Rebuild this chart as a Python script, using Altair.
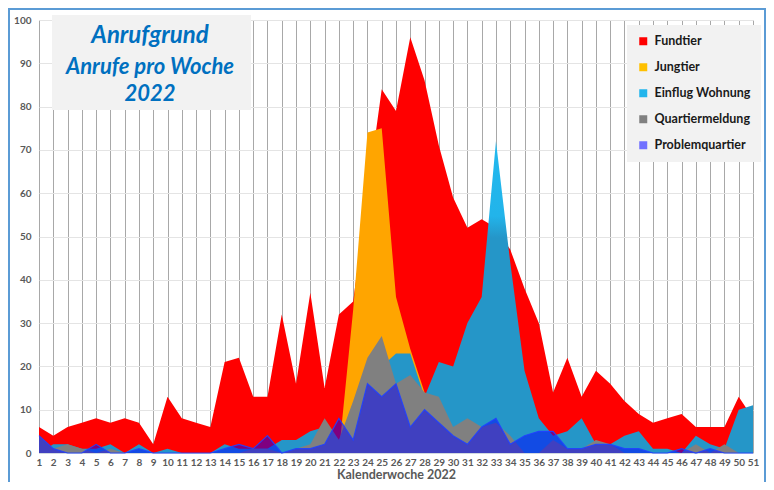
import altair as alt
import pandas as pd

weeks = list(range(1, 52))

fundtier = [6, 4, 6, 7, 8, 7, 8, 7, 2, 13,
            8, 7, 6, 21, 22, 13, 13, 32, 16, 37,
            15, 32, 35, 60, 84, 79, 96, 86, 71, 59,
            52, 54, 52, 47, 38, 30, 14, 22, 13, 19,
            16, 12, 9, 7, 8, 9, 6, 6, 6, 13,
            8]
jungtier = [0, 0, 0, 0, 0, 0, 0, 0, 0, 0,
            0, 0, 0, 0, 0, 0, 0, 0, 0, 0,
            0, 0, 33, 74, 75, 36, 24, 14, 0, 0,
            0, 0, 0, 0, 0, 0, 0, 0, 0, 0,
            0, 0, 0, 0, 0, 0, 0, 0, 0, 0,
            0]
einflug = [0, 2, 2, 1, 1, 2, 0, 2, 0, 1,
           0, 0, 0, 2, 1, 1, 1, 3, 3, 5,
           6, 3, 8, 14, 20, 23, 23, 13, 21, 20,
           30, 36, 72, 44, 19, 8, 4, 5, 8, 2,
           2, 4, 5, 1, 1, 0, 4, 2, 1, 10,
           11]
quartier = [4, 1, 2, 1, 0, 1, 0, 0, 0, 0,
            0, 0, 0, 0, 0, 1, 1, 0, 1, 2,
            8, 3, 12, 22, 27, 16, 18, 14, 13, 6,
            8, 6, 7, 4, 0, 0, 3, 1, 1, 3,
            2, 0, 0, 0, 0, 0, 2, 0, 2, 0,
            0]
problem = [4, 1, 0, 0, 2, 0, 0, 1, 0, 0,
           0, 0, 0, 1, 2, 1, 4, 0, 1, 1,
           2, 8, 3, 16, 13, 16, 6, 10, 7, 4,
           2, 6, 8, 2, 4, 5, 5, 1, 1, 2,
           2, 1, 1, 0, 0, 1, 0, 1, 0, 0,
           0]

series = ["Fundtier", "Jungtier", "Einflug Wohnung", "Quartiermeldung", "Problemquartier"]
legend_colors = ["#ff0000", "#ffc000", "#22b5ec", "#808080", "#7070ff"]
y_ticks = [0, 10, 20, 30, 40, 50, 60, 70, 80, 90, 100]

df = pd.DataFrame({
    "week": weeks,
    "fundtier": fundtier,
    "jungtier": jungtier,
    "einflug": einflug,
    "quartier": quartier,
    "problem": problem,
})

x_scale = alt.Scale(domain=[1, 51], nice=False, zero=False)
y_scale = alt.Scale(domain=[0, 100], nice=False)

x_axis = alt.Axis(values=weeks, title="Kalenderwoche 2022", labelOverlap=False, labelFlush=False,
                  ticks=False, domainColor="#d0d8e0", gridColor="#a8a8a8", gridWidth=1,
                  labelFontSize=10, labelFontWeight="bold", labelColor="#595959", labelPadding=4,
                  titleFontSize=12.5, titleFontWeight="bold", titleColor="#595959", titlePadding=1)
y_axis = alt.Axis(values=y_ticks, title=None, ticks=False, domain=False, gridColor="#e4e4e4",
                  labelFontSize=10, labelFontWeight="bold", labelColor="#595959", labelPadding=8)


def X(field="week"):
    return alt.X(f"{field}:Q", scale=x_scale, axis=x_axis)


def Y(field):
    return alt.Y(f"{field}:Q", scale=y_scale, axis=y_axis)


base = alt.Chart(df)

frame = base.mark_rect(fill=None, stroke="#5b9bd5", strokeWidth=2).encode(
    x=alt.value(-30), x2=alt.value(726), y=alt.value(-11), y2=alt.value(470))

title_box = base.mark_rect(fill="#f2f2f2").encode(
    x=alt.value(13), x2=alt.value(212), y=alt.value(-5), y2=alt.value(90))


def title_line(txt, yv, size):
    return alt.Chart(pd.DataFrame({"t": [txt]})).mark_text(
        font="Lato", fontStyle="italic", fontWeight="bold", fontSize=size, color="#0070c0",
        align="center", baseline="middle").encode(text="t:N", x=alt.value(111), y=alt.value(yv))


red = base.mark_area(color="#ff0000").encode(x=X(), y=Y("fundtier"))
orange = base.mark_area(color="#ffa500").encode(x=X(), y=Y("jungtier"))
lightblue = base.mark_area(color=alt.Gradient(
    gradient="linear", x1=0, x2=0, y1=0, y2=1,
    stops=[alt.GradientStop(offset=0, color="#22b8ee"),
           alt.GradientStop(offset=0.24, color="#22b4ea"),
           alt.GradientStop(offset=0.31, color="#2596c8"),
           alt.GradientStop(offset=1, color="#2596c8")])).encode(x=X(), y=Y("einflug"))
gray = base.mark_area(color="#808080").encode(x=X(), y=Y("quartier"))
blue = base.mark_area(color="#0000ff", opacity=0.5,
                      line=alt.OverlayMarkDef(color="#2040ff", strokeWidth=1.2, opacity=0.9)).encode(
    x=X(), y=Y("problem"))

leg_df = pd.DataFrame({"series": series, "week": [1] * 5, "v": [0] * 5})
legend = alt.Chart(leg_df).mark_square(opacity=0, size=1).encode(
    x=X(), y=Y("v"),
    color=alt.Color("series:N", scale=alt.Scale(domain=series, range=legend_colors),
                    legend=alt.Legend(title=None, orient="none", legendX=588, legendY=5,
                                      fillColor="#f2f2f2", padding=10, symbolType="square",
                                      symbolSize=64, symbolOpacity=1, symbolStrokeWidth=0,
                                      labelFont="Lato", labelFontSize=12.5, labelFontWeight="bold",
                                      labelColor="#1a1a1a", rowPadding=13, labelOffset=5)))

chart = alt.layer(
    red, orange, lightblue, gray, blue, frame, title_box,
    title_line("Anrufgrund", 16, 24),
    title_line("Anrufe pro Woche", 46.5, 22),
    title_line("2022", 74, 22),
    legend,
).properties(
    width=714, height=433,
    autosize=alt.AutoSizeParams(type="none"),
    padding={"left": 31, "top": 12, "right": 13, "bottom": 29},
).configure(font="Lato").configure_view(stroke=None)

chart.save("out.html", embed_options={"renderer": "svg", "actions": False})
